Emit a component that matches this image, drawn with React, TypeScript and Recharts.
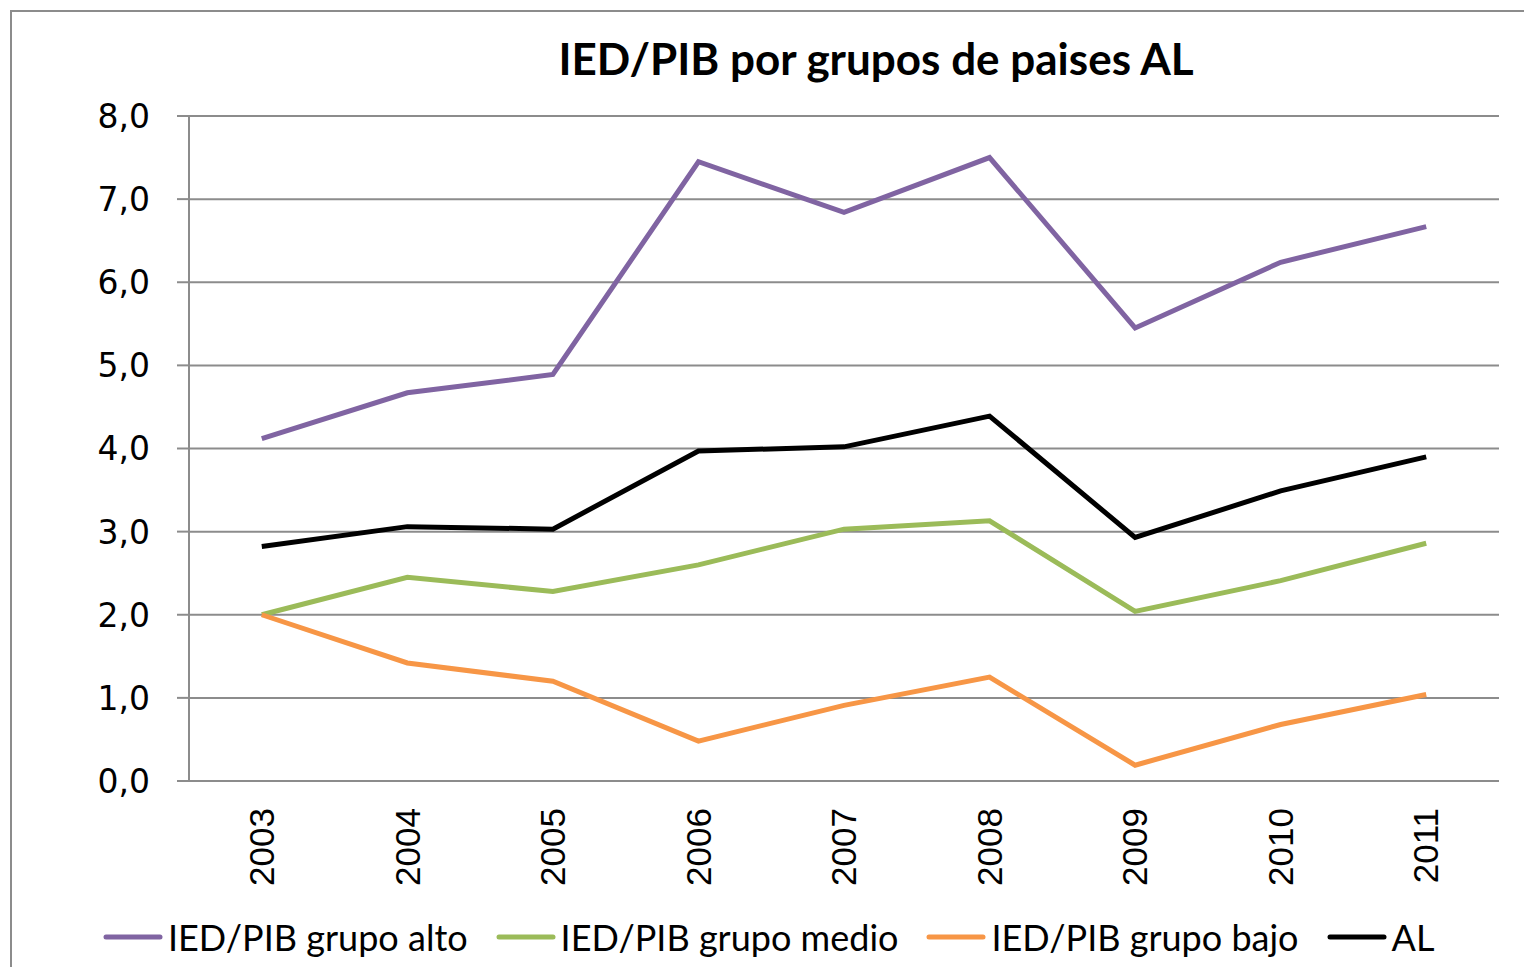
import React from "react";
import { LineChart, Line, XAxis, YAxis, CartesianGrid } from "recharts";

const years = [2003, 2004, 2005, 2006, 2007, 2008, 2009, 2010, 2011];
const alto = [4.12, 4.67, 4.89, 7.45, 6.84, 7.5, 5.45, 6.24, 6.67];
const medio = [2.0, 2.45, 2.28, 2.6, 3.03, 3.13, 2.04, 2.41, 2.86];
const bajo = [2.0, 1.42, 1.2, 0.48, 0.91, 1.25, 0.19, 0.68, 1.04];
const al = [2.82, 3.06, 3.03, 3.97, 4.02, 4.39, 2.93, 3.49, 3.9];
const yTicks = [0, 1, 2, 3, 4, 5, 6, 7, 8];
const edgeTicks = [2002.5, 2003.5, 2004.5, 2005.5, 2006.5, 2007.5, 2008.5, 2009.5, 2010.5, 2011.5];

const seriesNames = ["IED/PIB grupo alto", "IED/PIB grupo medio", "IED/PIB grupo bajo", "AL"];
const seriesColors = ["#8064A2", "#9BBB59", "#F79646", "#000000"];

const data = years.map((y, i) => ({
  year: y,
  alto: alto[i],
  medio: medio[i],
  bajo: bajo[i],
  al: al[i],
}));

const GRID = "#8c8c8c";

const XTick = (props: any) => {
  const { x, y, payload } = props;
  return (
    <text
      x={x}
      y={y}
      dy="0.35em"
      transform={`rotate(-90, ${x}, ${y})`}
      textAnchor="end"
      fill="#000"
      fontFamily="'Liberation Sans', Arial, sans-serif"
      fontSize={35}
    >
      {payload.value}
    </text>
  );
};

const YTick = (props: any) => {
  const { x, y, payload } = props;
  return (
    <text
      x={x}
      y={y}
      dy="0.36em"
      textAnchor="end"
      fill="#000"
      fontFamily="'DejaVu Sans', Verdana, sans-serif"
      fontSize={33}
    >
      {payload.value.toFixed(1).replace(".", ",")}
    </text>
  );
};

const LegendBox = () => (
  <div
    style={{
      position: "absolute",
      left: 95,
      top: 907,
      display: "flex",
      alignItems: "center",
      fontFamily: "Lato, 'Open Sans', sans-serif",
      fontSize: 36,
      color: "#000",
      whiteSpace: "nowrap",
    }}
  >
    {seriesNames.map((n, i) => (
      <div key={n} style={{ display: "flex", alignItems: "center", marginRight: 28 }}>
        <svg width={60} height={10} style={{ marginRight: 5 }}>
          <line x1={3} y1={5} x2={57} y2={5} stroke={seriesColors[i]} strokeWidth={5} strokeLinecap="round" />
        </svg>
        <span>{n}</span>
      </div>
    ))}
  </div>
);

export default function App() {
  return (
    <div style={{ position: "relative", width: 1524, height: 959, overflow: "hidden" }}>
      <div
        style={{
          position: "absolute",
          left: 2,
          top: 2,
          width: 1530,
          height: 980,
          borderLeft: "2px solid #8c8c8c",
          borderTop: "2px solid #8c8c8c",
        }}
      />
      <div
        style={{
          position: "absolute",
          left: 0,
          top: 24,
          width: 1736,
          textAlign: "center",
          fontFamily: "Lato, 'Open Sans', sans-serif",
          fontWeight: 700,
          fontSize: 44,
          color: "#000",
        }}
      >
        IED/PIB por grupos de paises AL
      </div>
      <LineChart
        width={1524}
        height={959}
        data={data}
        margin={{ top: 108, right: 33, left: 101, bottom: 76 }}
        style={{ position: "absolute", left: 0, top: 0 }}
      >
        <CartesianGrid horizontal vertical={false} stroke={GRID} strokeWidth={2} />
        <XAxis
          xAxisId="edges"
          dataKey="year"
          type="number"
          domain={[2002.5, 2011.5]}
          ticks={edgeTicks}
          tick={false}
          tickSize={12}
          height={0}
          axisLine={{ stroke: GRID, strokeWidth: 2 }}
          tickLine={{ stroke: GRID, strokeWidth: 2 }}
        />
        <XAxis
          xAxisId="main"
          dataKey="year"
          type="number"
          domain={[2002.5, 2011.5]}
          ticks={years}
          interval={0}
          height={110}
          axisLine={false}
          tickLine={false}
          tickSize={0}
          tickMargin={27}
          tick={<XTick />}
        />
        <YAxis
          domain={[0, 8]}
          ticks={yTicks}
          interval={0}
          width={80}
          tickSize={12}
          tickMargin={27}
          axisLine={{ stroke: GRID, strokeWidth: 2 }}
          tickLine={{ stroke: GRID, strokeWidth: 2 }}
          tick={<YTick />}
        />
        <Line xAxisId="main" dataKey="alto" name={seriesNames[0]} stroke={seriesColors[0]} strokeWidth={5} dot={false} isAnimationActive={false} />
        <Line xAxisId="main" dataKey="medio" name={seriesNames[1]} stroke={seriesColors[1]} strokeWidth={5} dot={false} isAnimationActive={false} />
        <Line xAxisId="main" dataKey="bajo" name={seriesNames[2]} stroke={seriesColors[2]} strokeWidth={5} dot={false} isAnimationActive={false} />
        <Line xAxisId="main" dataKey="al" name={seriesNames[3]} stroke={seriesColors[3]} strokeWidth={5} dot={false} isAnimationActive={false} />
      </LineChart>
      <LegendBox />
    </div>
  );
}
